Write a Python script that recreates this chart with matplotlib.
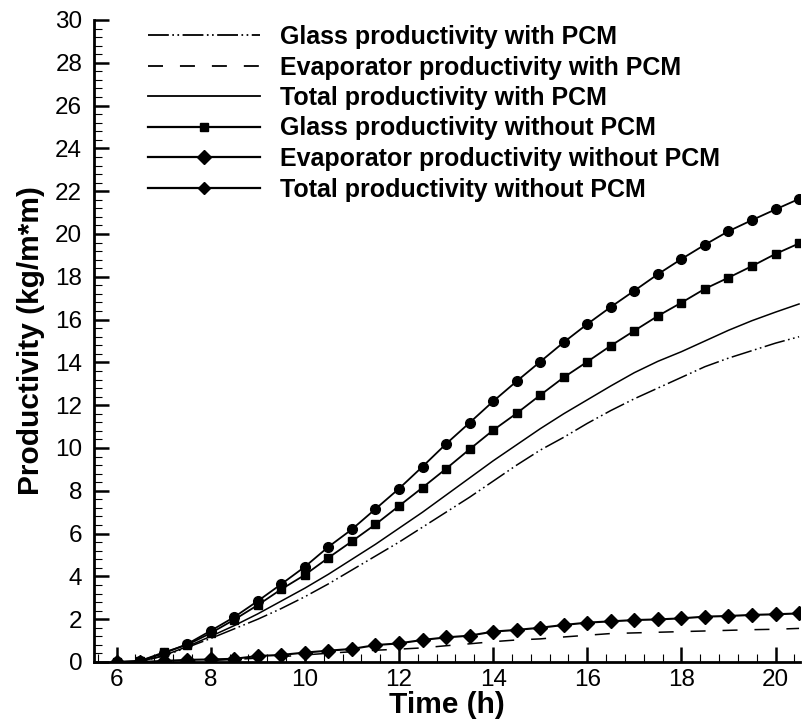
import matplotlib
matplotlib.use("Agg")
import matplotlib.pyplot as plt
from matplotlib.lines import Line2D
from matplotlib.ticker import MultipleLocator

plt.rcParams['font.family'] = ['Liberation Sans', 'DejaVu Sans']
plt.rcParams['lines.scale_dashes'] = False

# ---- data ----
time_h = [6.0, 6.5, 7.0, 7.5, 8.0, 8.5, 9.0, 9.5, 10.0, 10.5, 11.0, 11.5, 12.0, 12.5, 13.0,
          13.5, 14.0, 14.5, 15.0, 15.5, 16.0, 16.5, 17.0, 17.5, 18.0, 18.5, 19.0, 19.5, 20.0, 20.5]

glass_with_pcm = [0.0, 0.02, 0.28, 0.68, 1.10, 1.55, 2.00, 2.50, 3.05, 3.65, 4.30, 4.95, 5.60, 6.30, 7.00,
                  7.70, 8.45, 9.20, 9.90, 10.50, 11.15, 11.75, 12.30, 12.80, 13.30, 13.80, 14.20, 14.55, 14.90, 15.20]
evap_with_pcm = [0.0, 0.0, 0.0, 0.03, 0.07, 0.12, 0.18, 0.25, 0.33, 0.41, 0.48, 0.55, 0.60, 0.66, 0.76,
                 0.85, 0.95, 1.03, 1.08, 1.17, 1.25, 1.33, 1.36, 1.39, 1.42, 1.45, 1.48, 1.51, 1.53, 1.57]
total_with_pcm = [0.0, 0.02, 0.30, 0.72, 1.20, 1.70, 2.25, 2.85, 3.45, 4.10, 4.80, 5.50, 6.25, 7.00, 7.80,
                  8.60, 9.40, 10.15, 10.90, 11.60, 12.25, 12.90, 13.52, 14.05, 14.50, 15.00, 15.50, 15.95, 16.35, 16.73]
glass_without_pcm = [0.0, 0.05, 0.45, 0.80, 1.35, 1.98, 2.66, 3.40, 4.07, 4.87, 5.64, 6.43, 7.29, 8.15, 9.03,
                     9.94, 10.83, 11.62, 12.47, 13.30, 14.03, 14.78, 15.48, 16.17, 16.79, 17.44, 17.96, 18.50, 19.07, 19.56]
evap_without_pcm = [0.0, 0.0, 0.05, 0.10, 0.12, 0.15, 0.28, 0.33, 0.44, 0.53, 0.61, 0.79, 0.87, 1.03, 1.15,
                    1.23, 1.42, 1.50, 1.60, 1.73, 1.84, 1.90, 1.96, 1.99, 2.04, 2.12, 2.15, 2.20, 2.23, 2.27]
total_without_pcm = [0.0, 0.05, 0.40, 0.84, 1.46, 2.10, 2.85, 3.64, 4.45, 5.38, 6.20, 7.15, 8.10, 9.13, 10.19,
                     11.18, 12.18, 13.12, 14.03, 14.94, 15.79, 16.59, 17.35, 18.12, 18.83, 19.50, 20.13, 20.65, 21.15, 21.64]

labels = ["Glass productivity with PCM",
          "Evaporator productivity with PCM",
          "Total productivity with PCM",
          "Glass productivity without PCM",
          "Evaporator productivity without PCM",
          "Total productivity without PCM"]

x_ticks = [6, 8, 10, 12, 14, 16, 18, 20]
y_ticks = [0, 2, 4, 6, 8, 10, 12, 14, 16, 18, 20, 22, 24, 26, 28, 30]

# ---- figure ----
W, H = 806, 728
fig = plt.figure(figsize=(W / 100, H / 100), dpi=100)
ax = fig.add_axes([94 / W, 66 / H, 706 / W, 642 / H])

dashdotdot = (0, (15, 2.5, 1.2, 2.5, 1.2, 2.5))
dashed = (0, (10.8, 12.2))

ax.plot(time_h, glass_with_pcm, color='black', lw=1.1, linestyle=dashdotdot)
ax.plot(time_h, evap_with_pcm, color='black', lw=1.1, linestyle=dashed)
ax.plot(time_h, total_with_pcm, color='black', lw=1.1)
ax.plot(time_h, glass_without_pcm, color='black', lw=1.3, marker='s', ms=6)
ax.plot(time_h, evap_without_pcm, color='black', lw=1.5, marker='D', ms=7.5)
ax.plot(time_h, total_without_pcm, color='black', lw=1.3, marker='o', ms=7)

ax.set_xlim(5.52, 20.52)
ax.set_ylim(0, 30)
ax.set_xticks(x_ticks)
ax.set_yticks(y_ticks)
ax.xaxis.set_minor_locator(MultipleLocator(0.4))
ax.yaxis.set_minor_locator(MultipleLocator(0.4))

for s in ['top', 'right']:
    ax.spines[s].set_visible(False)
for s in ['left', 'bottom']:
    ax.spines[s].set_linewidth(2.0)

ax.tick_params(axis='both', which='major', direction='in', length=10.5, width=1.8,
               labelsize=17.5, top=False, right=False)
ax.tick_params(axis='both', which='minor', direction='in', length=5.5, width=0.8,
               top=False, right=False)
ax.tick_params(axis='x', which='major', pad=5)
ax.tick_params(axis='y', which='major', pad=8.5)

ax.set_xlabel("Time (h)", fontsize=21.5, fontweight='bold', labelpad=0)
ax.set_ylabel("Productivity (kg/m*m)", fontsize=21.5, fontweight='bold', labelpad=7)

handles = [
    Line2D([], [], color='black', lw=1.3, linestyle=dashdotdot),
    Line2D([], [], color='black', lw=1.3, linestyle=dashed),
    Line2D([], [], color='black', lw=1.3),
    Line2D([], [], color='black', lw=1.6, marker='s', ms=6),
    Line2D([], [], color='black', lw=1.6, marker='D', ms=7),
    Line2D([], [], color='black', lw=1.6, marker='D', ms=6),
]
leg = ax.legend(handles, labels, loc='upper left', bbox_to_anchor=(148 / W, 703 / H),
                bbox_transform=fig.transFigure, frameon=False, borderpad=0, borderaxespad=0,
                handlelength=4.48, handletextpad=0.8, labelspacing=0.26, numpoints=1,
                prop=dict(family='Liberation Sans', weight='bold', size=18))

fig.savefig("out.png", dpi=100)
